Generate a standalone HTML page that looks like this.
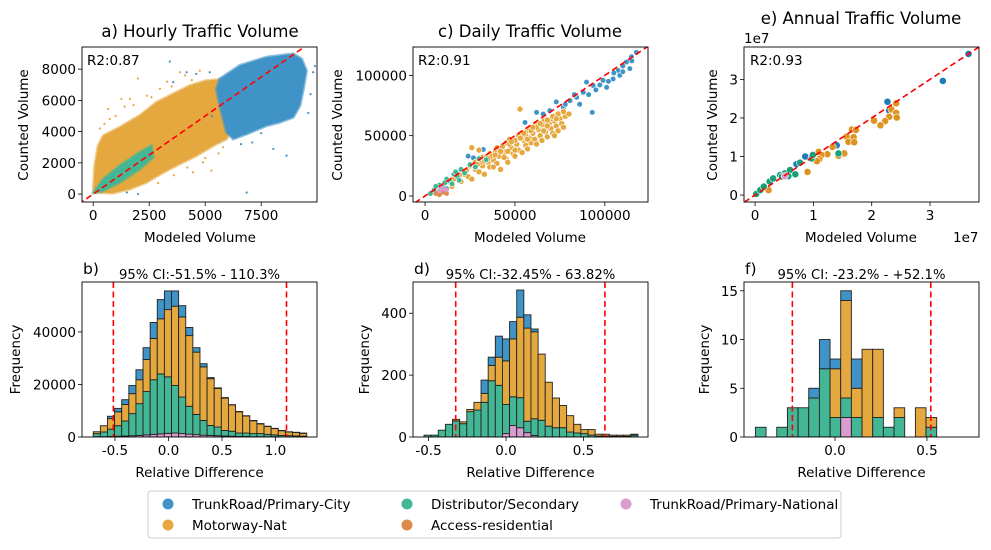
<!DOCTYPE html>
<html><head><meta charset="utf-8">
<style>
html,body{margin:0;padding:0;background:#fff;}
svg{display:block;font-family:"DejaVu Sans","Liberation Sans",sans-serif;}
</style></head>
<body>
<svg id="chart" width="991" height="550" viewBox="0 0 991 550" xmlns="http://www.w3.org/2000/svg"></svg>
<script>
// ---------- DATA ----------
const hourlyBlueRegion=[[5.65,7.38],[6.55,8.24],[7.74,8.77],[8.93,8.98],[9.3,8.66],[9.52,7.91],[9.38,6.74],[9.23,5.67],[8.93,4.92],[8.33,4.6],[7.74,4.38],[6.85,3.85],[6.25,3.53],[5.95,3.96],[5.8,4.81],[5.65,5.67],[5.5,6.74]];
const hourlyOrangeRegion=[[0,0.1],[0.07,1.82],[0.22,3.1],[0.45,3.74],[1.19,4.28],[2.08,5.03],[2.83,5.88],[3.72,6.52],[4.32,6.95],[5.06,7.27],[5.95,7.38],[6.25,6.74],[6.18,5.67],[6.25,4.38],[5.95,3.53],[5.36,3.1],[4.61,2.46],[3.87,1.93],[3.13,1.39],[2.38,0.75],[1.64,0.32],[0.89,0.06]];
const hourlyGreenRegion=[[0,0.06],[0.45,0.96],[1.19,1.82],[2.08,2.67],[2.6,3.1],[2.68,2.35],[2.08,1.6],[1.19,0.75],[0.45,0.21]];
const hourlyOrangeOutliers=[[0.67,5.45],[1.26,6.1],[2.0,7.4],[2.98,6.74],[3.87,7.8],[4.76,7.9],[0.74,4.81],[4.9,2.03],[5.28,1.5],[4.46,1.39],[1.64,6.1],[0.3,4.2],[2.4,6.3],[3.3,7.2],[5.6,2.6],[4.2,1.7],[1.0,5.0],[1.8,5.7],[2.6,6.2],[3.5,6.9],[4.4,7.3],[5.0,2.3],[5.8,3.0],[3.6,1.2],[2.9,0.7],[0.5,4.5],[4.1,7.6],[1.4,5.6]];
const hourlyBlueOutliers=[[3.42,8.49],[4.17,7.8],[3.57,7.17],[6.85,0.1],[8.63,2.46],[8.04,2.89],[9.82,7.8],[4.6,7.7],[7.1,3.3],[1.5,0.1],[2.0,0.0],[5.2,7.8],[9.7,6.4],[9.6,5.2],[7.5,3.9],[6.6,3.2],[9.9,8.2],[5.3,5.0]];
const dailyBlue=[[117.6,119],[114.8,115.4],[112,111],[110,107.8],[107.4,104],[113.9,105.6],[108.3,100],[104.6,97],[99,95.8],[97.2,92],[101,90],[93.5,91.6],[89.8,94.4],[88,86],[84.3,81.8],[86,76],[93,69.3],[80.6,79],[76.9,73.5],[73,78],[69.4,70.7],[65.7,67.9],[62,69.3],[55.6,60.9],[24,33],[26.9,31.6],[32.4,38.5],[95,88],[105,102],[91,84],[110,103],[102,95],[83,84],[78,76],[115,112]];
const dailyOrange=[[10,6],[13,12],[15,8],[18,14],[20,12],[22,18],[24,16],[26,14],[28,22],[30,20],[32,25],[33,18],[35,28],[36,24],[38,30],[40,27],[41,33],[42,22],[44,36],[45,31],[46,28],[48,40],[49,35],[50,33],[51,43],[52,38],[54,36],[55,46],[56,42],[57,39],[58,48],[59,44],[60,52],[61,47],[62,43],[63,55],[64,50],[65,46],[66,58],[67,53],[68,49],[69,60],[70,56],[71,52],[72,62],[73,58],[74,54],[75,64],[76,60],[78,66],[77,57],[72,50],[30,38],[52,50],[32,32],[45,44],[20,20],[66,62],[56,53],[40,40],[38,24],[25,25],[52.8,72],[26,40],[47,47],[58,56],[43,38],[36,35],[62,60],[70,64],[28,28],[54,48],[16,14],[19,17],[23,21],[27,25],[31,28],[34,32],[37,33],[39,36],[43,41],[47,43],[50,46],[53,48],[56,50],[59,54],[62,57],[65,59],[68,63],[71,66],[74,68],[77,70],[60,57],[55,52],[48,45],[42,37],[35,31],[29,26],[64,60],[68,58],[73,64],[57,47],[50,38],[44,32],[39,34],[33,29],[80,68],[66,54],[46,37]];
const dailyGreen=[[5,5],[8,9],[10,8],[12,14],[14,12],[16,18],[18,16],[20,22],[22,19],[25,26],[28,24],[30,31],[34,30],[8,4],[12,6],[6,8],[15,10],[3,2],[19,13],[11,11],[17,20]];
const dailyPink=[[8,4],[10,6],[12,5],[9,7]];
const dailyAccess=[[6,2],[8,1],[10,3],[12,2]];
const annualBlue=[[3.66,3.66],[3.22,2.96],[2.27,2.42],[2.30,2.19],[1.40,1.29],[0.86,1.0],[0.71,0.8]];
const annualOrange=[[2.42,2.38],[2.34,2.22],[2.42,2.13],[2.43,2.01],[2.30,2.03],[2.23,1.92],[2.04,1.93],[2.15,1.81],[1.66,1.70],[1.73,1.69],[1.57,1.51],[1.69,1.50],[1.60,1.38],[1.70,1.37],[1.33,1.25],[1.53,1.08],[1.43,1.02],[1.24,1.06],[1.09,1.12],[1.14,1.04],[1.10,0.93],[1.06,0.88],[0.9,0.6],[0.23,0.13]];
const annualGreen=[[0.02,0.03],[0.09,0.13],[0.15,0.22],[0.25,0.35],[0.31,0.43],[0.43,0.52],[0.51,0.56],[0.6,0.65],[0.69,0.54],[0.77,0.84],[0.97,0.95],[0.99,1.04],[1.43,1.08],[0.46,0.48],[0.57,0.49]];
const annualPink=[[0.51,0.49]];
const histBStart=-0.703, histBWidth=0.0665;
const histBPink=[0.1,0.1,0.2,0.3,0.4,0.5,0.6,0.8,1,1.2,1.4,1.5,1.3,1.1,0.9,0.7,0.6,0.5,0.4,0.3,0.2,0.2,0.1,0.1,0.1,0.1,0,0,0,0];
const histBGreen=[1.2,1.8,2.8,4,5.7,8.4,12.1,16.5,20.8,22.8,21.5,18.1,13.9,10.6,7.7,5.6,3.8,3.3,2.1,1.9,1.3,1.3,1.2,1.2,0.9,0.7,0.6,0.5,0.4,0.3];
const histBOrange=[0.7,2.4,4,5.3,6.3,7.6,9.1,12.2,15.7,21,25.6,30.2,30.5,26.9,23.7,20.4,17.8,14.7,12.3,10,8.1,6.5,4.9,3.7,3,2.4,1.8,1.4,1.3,1.1];
const histBBlue=[0,0,0.9,1.3,1.8,3.1,3.8,4.5,6.1,7.3,7.1,5.8,4.3,3.1,1.7,1.2,0.4,0.2,0.2,0.1,0.1,0.1,0.1,0.1,0.1,0.1,0.1,0.1,0.1,0.1];
const histDStart=-0.529, histDWidth=0.046;
const histDPink=[0,0,0,0,0,0,0,0,0,0,0,11,37,30,14,5,0,0,0,0,0,0,0,0,0,0,0,0,0,0];
const histDGreen=[6,6,22,41,52,43,82,87,112,182,167,94,93,97,37,54,54,35,30,30,16,13,11,6,3,3,2,2,2,6];
const histDOrange=[0,0,0,0,5,6,7,25,29,49,91,141,187,260,301,281,214,142,96,72,53,28,13,18,6,6,4,4,4,3];
const histDBlue=[0,0,0,0,0,0,0,0,43,27,68,71,56,88,43,9,0,0,0,0,0,0,0,0,0,0,0,0,0,0];
const histFStart=-0.433, histFWidth=0.058;
const histFPink=[0,0,0,0,0,0,0,0,2,0,0,0,0,0,0,0,0];
const histFGreen=[1,0,1,3,3,4,7,2,2,2,0,2,1,2,0,0,1];
const histFOrange=[0,0,0,0,0,0,0,5,10,3,9,7,0,1,0,3,1];
const histFBlue=[0,0,0,0,0,1,3,1,1,3,0,0,0,0,0,0,0];
const ciB=[-0.515,1.103], ciD=[-0.3245,0.6382], ciF=[-0.232,0.521];
const ticksAx=[0,2500,5000,7500], ticksAy=[0,2000,4000,6000,8000];
const ticksCx=[0,50000,100000], ticksCy=[0,50000,100000];
const ticksEx=[0,1,2,3], ticksEy=[0,1,2,3];
const ticksBx=[-0.5,0,0.5,1.0], ticksBy=[0,20000,40000];
const ticksDx=[-0.5,0,0.5], ticksDy=[0,200,400];
const ticksFx=[0,0.5], ticksFy=[0,5,10,15];

const C={blue:'#3f93c6',orange:'#e5a83f',green:'#43b795',access:'#df8a4a',pink:'#d89ccf'};
const svg=document.getElementById('chart');
const NS='http://www.w3.org/2000/svg';
function mk(tag,attrs,parent){const e=document.createElementNS(NS,tag);for(const k in attrs)e.setAttribute(k,attrs[k]);(parent||svg).appendChild(e);return e;}
function scale(d0,d1,r0,r1){return v=>r0+(v-d0)/(d1-d0)*(r1-r0);}
function txt(x,y,s,opts,parent){const t=mk('text',Object.assign({x:x,y:y,'font-size':13.5,fill:'#000'},opts||{}),parent);t.textContent=s;return t;}

function axes(name,L,T,R,B,xs,ys,xt,yt,xfmt,yfmt){
  const g=mk('g',{});
  
  
  const cp=mk('clipPath',{id:'clip-'+name},g);mk('rect',{x:L,y:T,width:R-L,height:B-T},cp);
  const plot=mk('g',{'clip-path':'url(#clip-'+name+')'},g);
  const tg=mk('g',{},g);
  
  
  xt.forEach(v=>{const x=xs(v);mk('line',{x1:x,x2:x,y1:B,y2:B+4,stroke:'#000','stroke-width':0.8},tg);txt(x,B+18,xfmt(v),{'text-anchor':'middle'},tg);});
  const yg=mk('g',{},g);
  
  
  yt.forEach(v=>{const y=ys(v);mk('line',{x1:L-4,x2:L,y1:y,y2:y,stroke:'#000','stroke-width':0.8},yg);txt(L-6,y+5,yfmt(v),{'text-anchor':'end'},yg);});
  return {g,plot,frame:()=>mk('rect',{x:L,y:T,width:R-L,height:B-T,fill:'none',stroke:'#000','stroke-width':0.9},g)};
}
function poly(parent,pts,xs,ys,col,name){const p=mk('polygon',{points:pts.map(d=>xs(d[0])+','+ys(d[1])).join(' '),fill:col,stroke:col,'stroke-width':3,'stroke-linejoin':'round','stroke-opacity':0.6},parent);}
function dots(parent,pts,xs,ys,col,r,name,edge){pts.forEach(d=>{const c=mk('circle',{cx:xs(d[0]),cy:ys(d[1]),r:r,fill:col,stroke:edge||'none','stroke-width':0.6},parent);});}
function diag(parent,xs,ys,lo,hi){mk('line',{x1:xs(lo),y1:ys(lo),x2:xs(hi),y2:ys(hi),stroke:'#ff0000','stroke-width':1.6,'stroke-dasharray':'6,3.5'},parent);}

{const L=82,T=47,R=317,B=202;const xs=scale(-0.5,9.99,L,R),ys=scale(-0.51,9.42,B,T);
 const a=axes('hourly-scatter',L,T,R,B,v=>xs(v/1000),v=>ys(v/1000),ticksAx,ticksAy,String,String);
 poly(a.plot,hourlyOrangeRegion,xs,ys,C.orange,'hourly-motorway-cloud');
 poly(a.plot,hourlyBlueRegion,xs,ys,C.blue,'hourly-trunk-city-cloud');
 poly(a.plot,hourlyGreenRegion,xs,ys,C.green,'hourly-distributor-cloud');
 dots(a.plot,hourlyOrangeOutliers,xs,ys,C.orange,1.1,'hourly-motorway-point');
 dots(a.plot,hourlyBlueOutliers,xs,ys,C.blue,1.1,'hourly-trunk-city-point');
 diag(a.plot,xs,ys,-1,11);a.frame();
 txt(87,65,'R2:0.87',{},a.g);
 txt(200,37,'a) Hourly Traffic Volume',{'text-anchor':'middle','font-size':16.5},a.g);
 txt(200,242,'Modeled Volume',{'text-anchor':'middle'},a.g);
 txt(0,0,'Counted Volume',{'text-anchor':'middle',transform:'translate(28,125) rotate(-90)'},a.g);}
{const L=413,T=47,R=648,B=202;const xs=scale(-6.7,124,L,R),ys=scale(-5,123.5,B,T);
 const a=axes('daily-scatter',L,T,R,B,v=>xs(v/1000),v=>ys(v/1000),ticksCx,ticksCy,String,String);
 dots(a.plot,dailyBlue,xs,ys,C.blue,2.8,'daily-trunk-city-point','#fff');
 dots(a.plot,dailyOrange,xs,ys,C.orange,3,'daily-motorway-point','#fff');
 dots(a.plot,dailyGreen,xs,ys,C.green,2.8,'daily-distributor-point','#fff');
 dots(a.plot,dailyAccess,xs,ys,C.access,2.4,'daily-access-point');
 dots(a.plot,dailyPink,xs,ys,C.pink,2.4,'daily-trunk-national-point');
 diag(a.plot,xs,ys,-10,130);a.frame();
 txt(418,65,'R2:0.91',{},a.g);
 txt(530,37,'c) Daily Traffic Volume',{'text-anchor':'middle','font-size':16.5},a.g);
 txt(530,242,'Modeled Volume',{'text-anchor':'middle'},a.g);
 txt(0,0,'Counted Volume',{'text-anchor':'middle',transform:'translate(342,125) rotate(-90)'},a.g);}
{const L=744,T=47,R=979,B=202;const xs=scale(-0.19,3.84,L,R),ys=scale(-0.18,3.84,B,T);
 const a=axes('annual-scatter',L,T,R,B,xs,ys,ticksEx,ticksEy,String,String);
 dots(a.plot,annualBlue,xs,ys,'#1f7ab8',3.6,'annual-trunk-city-point','#fff');
 dots(a.plot,annualOrange,xs,ys,'#de9320',3.6,'annual-motorway-point','#fff');
 dots(a.plot,annualGreen,xs,ys,'#17a077',3.6,'annual-distributor-point','#fff');
 dots(a.plot,annualPink,xs,ys,C.pink,3.6,'annual-trunk-national-point','#fff');
 diag(a.plot,xs,ys,-1,5);a.frame();
 txt(750,65,'R2:0.93',{},a.g);
 txt(861,24,'e) Annual Traffic Volume',{'text-anchor':'middle','font-size':16.5},a.g);
 txt(744,43,'1e7',{},a.g);
 txt(953,242,'1e7',{},a.g);
 txt(861,242,'Modeled Volume',{'text-anchor':'middle'},a.g);
 txt(0,0,'Counted Volume',{'text-anchor':'middle',transform:'translate(717,125) rotate(-90)'},a.g);}

function hist(name,L,T,R,B,xd,yd,xt,yt,start,w,series,ci,label,ciText,ylabX,yfmt,xfmt){
  const xs=scale(xd[0],xd[1],L,R),ys=scale(0,yd,B,T);
  const a=axes(name,L,T,R,B,xs,ys,xt,yt,xfmt,yfmt);
  const n=series[0].vals.length;
  for(let i=0;i<n;i++){let cum=0;series.forEach(s=>{const v=s.vals[i]*s.mult;if(v<=0)return;const x0=xs(start+i*w),x1=xs(start+(i+1)*w);const r=mk('rect',{x:x0,y:ys(cum+v),width:x1-x0,height:ys(cum)-ys(cum+v),fill:s.col,stroke:'#222','stroke-width':0.9},a.plot);cum+=v;});}
  ci.forEach(v=>{const l=mk('line',{x1:xs(v),x2:xs(v),y1:T,y2:B,stroke:'#ff0000','stroke-width':1.6,'stroke-dasharray':'6,3.5'},a.plot);});
  a.frame();
  txt(L+1,T-8,label,{'font-size':15.5},a.g);
  txt((L+R)/2,T-3,ciText,{'text-anchor':'middle','font-size':13.2},a.g);
  txt((L+R)/2,B+40,'Relative Difference',{'text-anchor':'middle'},a.g);
  txt(0,0,'Frequency',{'text-anchor':'middle',transform:'translate('+ylabX+','+((T+B)/2)+') rotate(-90)'},a.g);
}
const f1=v=>v.toFixed(1);
hist('hourly-histogram',82,282,317,437,[-0.808,1.388],59000,ticksBx,ticksBy,histBStart,histBWidth,
 [{key:'pink',vals:histBPink,col:C.pink,mult:1000},{key:'green',vals:histBGreen,col:C.green,mult:1000},{key:'orange',vals:histBOrange,col:C.orange,mult:1000},{key:'blue',vals:histBBlue,col:C.blue,mult:1000}],
 ciB,'b)','95% CI:-51.5% - 110.3%',20,String,f1);
hist('daily-histogram',413,282,648,437,[-0.6,0.916],501,ticksDx,ticksDy,histDStart,histDWidth,
 [{key:'pink',vals:histDPink,col:C.pink,mult:1},{key:'green',vals:histDGreen,col:C.green,mult:1},{key:'orange',vals:histDOrange,col:C.orange,mult:1},{key:'blue',vals:histDBlue,col:C.blue,mult:1}],
 ciD,'d)','95% CI:-32.45% - 63.82%',369,String,f1);
hist('annual-histogram',744,282,979,437,[-0.495,0.783],15.9,ticksFx,ticksFy,histFStart,histFWidth,
 [{key:'pink',vals:histFPink,col:C.pink,mult:1},{key:'green',vals:histFGreen,col:C.green,mult:1},{key:'orange',vals:histFOrange,col:C.orange,mult:1},{key:'blue',vals:histFBlue,col:C.blue,mult:1}],
 ciF,'f)','95% CI: -23.2% - +52.1%',709,String,f1);

{const g=mk('g',{});
 
 
 mk('rect',{x:148,y:491,width:693,height:47,rx:3,fill:'#fff',stroke:'#ccc','stroke-width':1},g);
 const items=[['TrunkRoad/Primary-City',C.blue,168,504],['Motorway-Nat',C.orange,168,525],['Distributor/Secondary',C.green,407,504],['Access-residential',C.access,407,525],['TrunkRoad/Primary-National',C.pink,626,504]];
 items.forEach(it=>{const e=mk('g',{},g);
  
  
  mk('circle',{cx:it[2],cy:it[3],r:5.5,fill:it[1]},e);txt(it[2]+24,it[3]+5,it[0],{},e);});}
</script>
</body></html>
